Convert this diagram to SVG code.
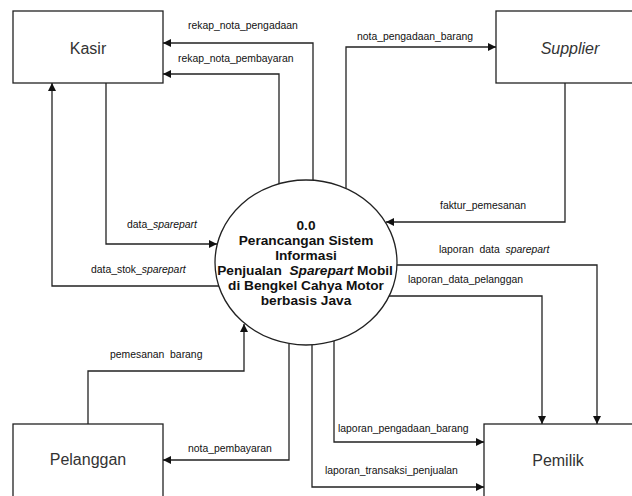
<svg xmlns="http://www.w3.org/2000/svg" width="632" height="496" viewBox="0 0 632 496">
<style>
.box{fill:#fff;stroke:#222;stroke-width:1.3}
.ent{font-family:"Liberation Sans",Arial,sans-serif;font-size:16px;fill:#333;text-anchor:middle}
.lbl{font-family:"Liberation Sans",Arial,sans-serif;font-size:10.4px;fill:#111}
.c{fill:none;stroke:#222;stroke-width:1.3;marker-end:url(#ah)}
.pt{font-family:"Liberation Sans",Arial,sans-serif;font-size:13.7px;font-weight:bold;fill:#111;text-anchor:middle}
</style>
<defs>
<marker id="ah" viewBox="0 0 10 10" refX="10" refY="5" markerWidth="8" markerHeight="8" markerUnits="userSpaceOnUse" orient="auto">
<path d="M0,0 L10,5 L0,10 Z" fill="#111"/>
</marker>
</defs>
<rect width="632" height="496" fill="#fff"/>
<g id="kasir"><rect class="box" x="13" y="11" width="150" height="72"/><text class="ent" x="88" y="54">Kasir</text></g>
<g id="supplier"><rect class="box" x="496" y="11" width="150" height="72"/><text class="ent" x="570" y="54" font-style="italic">Supplier</text></g>
<g id="pelanggan"><rect class="box" x="13" y="424" width="150" height="90"/><text class="ent" x="88" y="465">Pelanggan</text></g>
<g id="pemilik"><rect class="box" x="484" y="424" width="160" height="90"/><text class="ent" x="558" y="466">Pemilik</text></g>
<g id="proses">
<ellipse cx="306" cy="262.5" rx="91" ry="82.5" fill="#fff" stroke="#222" stroke-width="1.3"/>
<text class="pt" x="306" y="230">0.0</text>
<text class="pt" x="306" y="245">Perancangan Sistem</text>
<text class="pt" x="306" y="260">Informasi</text>
<text class="pt" x="305" y="275" xml:space="preserve">Penjualan  <tspan font-style="italic">Sparepart</tspan> Mobil</text>
<text class="pt" x="306" y="290">di Bengkel Cahya Motor</text>
<text class="pt" x="306" y="305">berbasis Java</text>
</g>
<g id="connectors">
<path class="c" d="M313,180 V43 H163"/>
<path class="c" d="M279,184 V74 H163"/>
<path class="c" d="M346,188 V47 H496"/>
<path class="c" d="M565,83 V222 H386"/>
<path class="c" d="M106,83 V244 H217"/>
<path class="c" d="M219,286 H52 V83"/>
<path class="c" d="M397,265 H597 V424"/>
<path class="c" d="M389,296 H542 V424"/>
<path class="c" d="M88,424 V371 H244 V324"/>
<path class="c" d="M289,344 V460 H163"/>
<path class="c" d="M312,345 V487 H484"/>
<path class="c" d="M334,341 V442 H484"/>
<text class="lbl" x="188" y="29">rekap_nota_pengadaan</text>
<text class="lbl" x="178" y="62">rekap_nota_pembayaran</text>
<text class="lbl" x="357" y="40">nota_pengadaan_barang</text>
<text class="lbl" x="440" y="209">faktur_pemesanan</text>
<text class="lbl" x="127" y="228">data_<tspan font-style="italic">sparepart</tspan></text>
<text class="lbl" x="91" y="273">data_stok_<tspan font-style="italic">sparepart</tspan></text>
<text class="lbl" x="439" y="253" xml:space="preserve">laporan  data  <tspan font-style="italic">sparepart</tspan></text>
<text class="lbl" x="408" y="283">laporan_data_pelanggan</text>
<text class="lbl" x="110" y="358" xml:space="preserve">pemesanan  barang</text>
<text class="lbl" x="188" y="452">nota_pembayaran</text>
<text class="lbl" x="338" y="432">laporan_pengadaan_barang</text>
<text class="lbl" x="325" y="474">laporan_transaksi_penjualan</text>
</g>
</svg>
